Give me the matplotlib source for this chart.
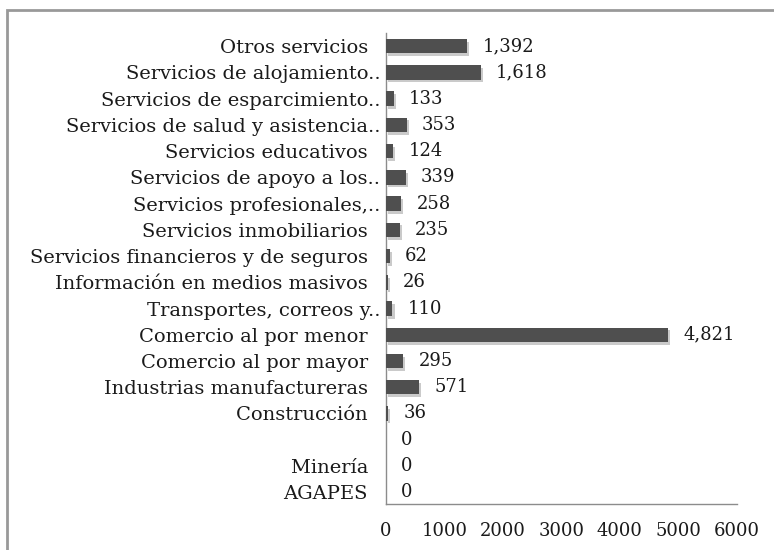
import matplotlib.pyplot as plt
import matplotlib.patheffects as pe
from matplotlib.patches import Rectangle
import numpy as np

# datos (de abajo hacia arriba)
categorias = ['AGAPES', 'Minería', '', 'Construcción', 'Industrias manufactureras',
              'Comercio al por mayor', 'Comercio al por menor', 'Transportes, correos y..',
              'Información en medios masivos', 'Servicios financieros y de seguros',
              'Servicios inmobiliarios', 'Servicios profesionales,..',
              'Servicios de apoyo a los..', 'Servicios educativos',
              'Servicios de salud y asistencia..', 'Servicios de esparcimiento..',
              'Servicios de alojamiento..', 'Otros servicios']
valores = [0, 0, 0, 36, 571, 295, 4821, 110, 26, 62, 235, 258, 339, 124, 353, 133, 1618, 1392]
xticks = [0, 1000, 2000, 3000, 4000, 5000, 6000]

plt.rcParams['font.family'] = 'DejaVu Serif'
plt.rcParams['font.size'] = 12

fig = plt.figure(figsize=(7.74, 5.5), dpi=100)
ax = fig.add_axes([0.4987, 0.0836, 0.4533, 0.8564])

# marco exterior gris
fig.patches.append(Rectangle((7 / 774, -0.05), 1.1, 1 - 10 / 550 + 0.05,
                             transform=fig.transFigure, fill=False,
                             edgecolor='#999999', linewidth=2))

y = np.arange(len(categorias))
bars = ax.barh(y, valores, height=0.55, color='#4f4f4f', zorder=3)
for b in bars:
    b.set_path_effects([pe.SimplePatchShadow(offset=(1.5, -2), shadow_rgbFace='#a8a8a8', alpha=0.6),
                        pe.Normal()])

for yi, v in zip(y, valores):
    ax.annotate(f"{v:,}", (v, yi), textcoords='offset points', xytext=(11, 0),
                ha='left', va='center', fontsize=13, color='#1a1a1a')

labels = [c if c.endswith('..') or c == '' else c + '  ' for c in categorias]
ax.set_yticks(y)
ax.set_yticklabels(labels, fontsize=14, color='#1a1a1a')
ax.set_ylim(-0.45, len(categorias) - 0.5)
ax.set_xlim(0, 6000)
ax.set_xticks(xticks)
ax.set_xticklabels([str(t) for t in xticks], fontsize=13, color='#1a1a1a')

ax.tick_params(axis='y', length=0, pad=4)
ax.tick_params(axis='x', length=0, pad=13)
for s in ['top', 'right']:
    ax.spines[s].set_visible(False)
ax.spines['left'].set_color('#8c8c8c')
ax.spines['bottom'].set_color('#8c8c8c')
ax.spines['left'].set_linewidth(1)
ax.spines['bottom'].set_linewidth(1)

plt.savefig('out.png', dpi=100)
